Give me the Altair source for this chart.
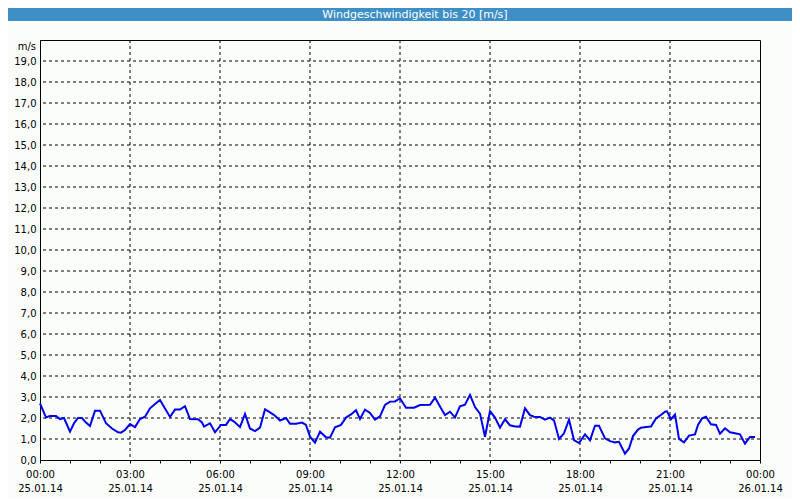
import altair as alt
import pandas as pd

# --- data ---
times = [
    "00:00", "00:12", "00:20", "00:32", "00:40", "00:48", "01:00", "01:08", "01:16", "01:24",
    "01:32", "01:40", "01:50", "02:00", "02:12", "02:24", "02:36", "02:42", "02:50", "03:00",
    "03:10", "03:20", "03:30", "03:40", "03:50", "04:00", "04:20", "04:30", "04:40", "04:50",
    "05:00", "05:16", "05:24", "05:28", "05:40", "05:50", "06:02", "06:12", "06:20", "06:28",
    "06:40", "06:50", "07:00", "07:10", "07:20", "07:30", "07:40", "07:50", "08:00", "08:12",
    "08:20", "08:32", "08:44", "08:52", "09:00", "09:10", "09:20", "09:32", "09:40", "09:50",
    "10:02", "10:12", "10:22", "10:32", "10:40", "10:50", "11:00", "11:10", "11:20", "11:30",
    "11:40", "11:50", "12:00", "12:12", "12:28", "12:40", "13:00", "13:10", "13:22", "13:30",
    "13:40", "13:50", "14:00", "14:10", "14:20", "14:30", "14:40", "14:50", "15:00", "15:10",
    "15:20", "15:30", "15:40", "15:50", "16:00", "16:10", "16:20", "16:28", "16:40", "16:50",
    "17:00", "17:08", "17:18", "17:28", "17:38", "17:48", "17:58", "18:10", "18:20", "18:30",
    "18:38", "18:50", "19:00", "19:10", "19:18", "19:30", "19:38", "19:46", "19:56", "20:02",
    "20:12", "20:22", "20:32", "20:40", "20:50", "20:54", "21:02", "21:10", "21:18", "21:28",
    "21:38", "21:50", "21:56", "22:04", "22:12", "22:22", "22:32", "22:40", "22:50", "23:00",
    "23:10", "23:20", "23:30", "23:40", "23:50",
]
speeds = [
    2.70, 2.03, 2.10, 2.10, 1.95, 2.00, 1.35, 1.75, 2.00, 2.00,
    1.78, 1.62, 2.35, 2.35, 1.75, 1.50, 1.32, 1.30, 1.43, 1.71,
    1.57, 1.95, 2.06, 2.46, 2.67, 2.86, 2.05, 2.40, 2.40, 2.56,
    1.95, 1.94, 1.79, 1.59, 1.75, 1.32, 1.67, 1.67, 1.95, 1.83,
    1.57, 2.19, 1.50, 1.38, 1.54, 2.41, 2.27, 2.11, 1.88, 2.00,
    1.73, 1.73, 1.78, 1.67, 1.11, 0.83, 1.35, 1.08, 1.06, 1.56,
    1.67, 2.02, 2.17, 2.37, 1.95, 2.40, 2.24, 1.92, 2.08, 2.62,
    2.78, 2.79, 2.94, 2.49, 2.49, 2.62, 2.63, 2.97, 2.46, 2.14,
    2.30, 2.03, 2.56, 2.63, 3.10, 2.52, 2.21, 1.11, 2.33, 2.02,
    1.54, 1.94, 1.65, 1.60, 1.59, 2.46, 2.14, 2.06, 2.05, 1.92,
    2.02, 1.89, 1.00, 1.27, 1.92, 0.95, 0.81, 1.22, 0.94, 1.63,
    1.63, 1.03, 0.90, 0.84, 0.87, 0.30, 0.55, 1.14, 1.45, 1.54,
    1.57, 1.59, 1.98, 2.11, 2.30, 2.32, 1.94, 2.16, 1.00, 0.84,
    1.16, 1.22, 1.67, 1.98, 2.06, 1.70, 1.67, 1.25, 1.51, 1.32,
    1.27, 1.22, 0.78, 1.10, 1.10,
]
tick_times = ["00:00", "03:00", "06:00", "09:00", "12:00", "15:00", "18:00", "21:00", "00:00"]
tick_dates = ["25.01.14", "25.01.14", "25.01.14", "25.01.14", "25.01.14",
              "25.01.14", "25.01.14", "25.01.14", "26.01.14"]
grid_hours = [3, 6, 9, 12, 15, 18, 21]
y_values = list(range(0, 20))
y_grid = list(range(1, 20))
title_text = "Windgeschwindigkeit bis 20 [m/s]"
unit_text = "m/s"

def to_hours(s):
    h, m = s.split(":")
    return int(h) + int(m) / 60.0

df = pd.DataFrame({"hours": [to_hours(t) for t in times], "speed": speeds})

FONT = "DejaVu Sans"
BLUE_BAR = "#3d8fc6"
BG = "#fbfdfb"

T_arr = "[" + ",".join("'%s'" % t for t in tick_times) + "]"
D_arr = "[" + ",".join("'%s'" % d for d in tick_dates) + "]"
x_label_expr = ("datum.value % 3 == 0 ? [" + T_arr + "[datum.value/3], " + D_arr +
                "[datum.value/3]] : ''")

x_scale = alt.Scale(domain=[0, 24], nice=False, zero=False)
y_scale = alt.Scale(domain=[0, 20], nice=False)

x_axis = alt.Axis(
    values=list(range(0, 25)), title=None, grid=False, ticks=True, tickSize=3,
    tickColor="black", domainColor="black", labelExpr=x_label_expr,
    labelFlush=False, labelOverlap=False, labelPadding=6, labelLineHeight=14,
    labelFont=FONT, labelFontSize=10, labelColor="black",
)
y_axis = alt.Axis(
    values=y_values, title=None, grid=False, ticks=False, domainColor="black",
    labelExpr="replace(format(datum.value, '.1f'), '.', ',')", labelOverlap=False,
    labelFlush=False, labelPadding=4, labelFont=FONT, labelFontSize=10,
    labelColor="black",
)

one = alt.Data(values=[{}])

vgrid = alt.Chart(pd.DataFrame({"hours": grid_hours})).mark_rule(
    color="black", strokeDash=[3, 3], strokeWidth=1
).encode(x=alt.X("hours:Q", scale=x_scale, axis=x_axis))

hgrid = alt.Chart(pd.DataFrame({"speed": y_grid})).mark_rule(
    color="black", strokeDash=[3, 3], strokeWidth=1
).encode(y=alt.Y("speed:Q", scale=y_scale, axis=y_axis))

line = alt.Chart(df).mark_line(color="#0000ee", strokeWidth=2).encode(
    x=alt.X("hours:Q", scale=x_scale, axis=x_axis),
    y=alt.Y("speed:Q", scale=y_scale, axis=y_axis),
)

bar = alt.Chart(one).mark_rect(color=BLUE_BAR, clip=False).encode(
    x=alt.value(-32), x2=alt.value(760), y=alt.value(-32), y2=alt.value(-19)
)
right_border = alt.Chart(one).mark_rect(color=BLUE_BAR, clip=False).encode(
    x=alt.value(758), x2=alt.value(760), y=alt.value(-32), y2=alt.value(458)
)
title = alt.Chart(one).mark_text(
    text=title_text, color="white", font=FONT, fontSize=11, align="center",
    baseline="alphabetic", clip=False
).encode(x=alt.value(375), y=alt.value(-22))

unit = alt.Chart(one).mark_text(
    text=unit_text, color="black", font=FONT, fontSize=10, align="right",
    baseline="middle", dy=7, clip=False
).encode(x=alt.value(-4), y=alt.YDatum(20, scale=y_scale, axis=y_axis))

chart = alt.layer(vgrid, hgrid, line, bar, right_border, title, unit).properties(
    width=720, height=420,
    padding={"left": 32, "top": 32, "right": 32, "bottom": 38},
    autosize=alt.AutoSizeParams(type="none"),
    background=BG,
).configure_view(stroke="black", strokeWidth=1, fill=BG)

chart.save("out.html", embed_options={"renderer": "svg", "actions": False})
